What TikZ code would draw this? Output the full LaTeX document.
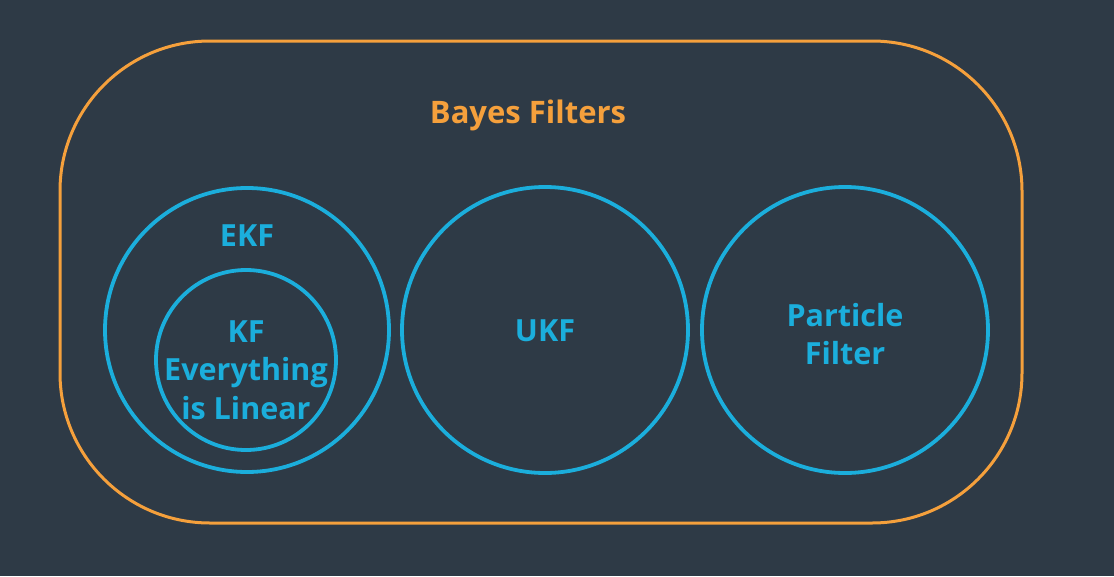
\documentclass[tikz,border=0pt]{standalone}
\usepackage{fontspec}
\setmainfont{Open Sans}
\definecolor{slate}{HTML}{2E3A46}
\definecolor{bayesorange}{HTML}{F5A03C}
\definecolor{filterblue}{HTML}{1BAEDC}
\tikzset{
  ring/.style={draw=filterblue, line width=3.8pt, circle, inner sep=0pt},
  ringlabel/.style={text=filterblue, align=center, font=\fontsize{30.5}{38.5}\selectfont\bfseries},
}

\begin{document}
\begin{tikzpicture}[x=1pt, y=-1pt]
        \fill [slate] (0,0) rectangle (1114,576);
        \draw [bayesorange, line width=3pt, rounded corners=150pt] (60,41) rectangle (1022,523);
        \node [text=bayesorange, font=\fontsize{31}{38}\selectfont\bfseries] (bayes) at (528,115) {Bayes Filters};
        \node [ring, minimum size=284pt] (ekf) at (247,330) {};
        \node [ring, minimum size=180pt] (kf) at (246,360) {};
        \node [ring, minimum size=286pt] (ukf) at (545,330) {};
        \node [ring, minimum size=286pt] (pf) at (845,330) {};
        \node [ringlabel] (ekflabel) at (247,236) {EKF};
        \node [ringlabel] (kflabel) at (246,370) {KF\\Everything\\is Linear};
        \node [ringlabel] (ukflabel) at (545,331) {UKF};
        \node [ringlabel] (pflabel) at (845,334) {Particle\\Filter};
    \end{tikzpicture}
\end{document}
